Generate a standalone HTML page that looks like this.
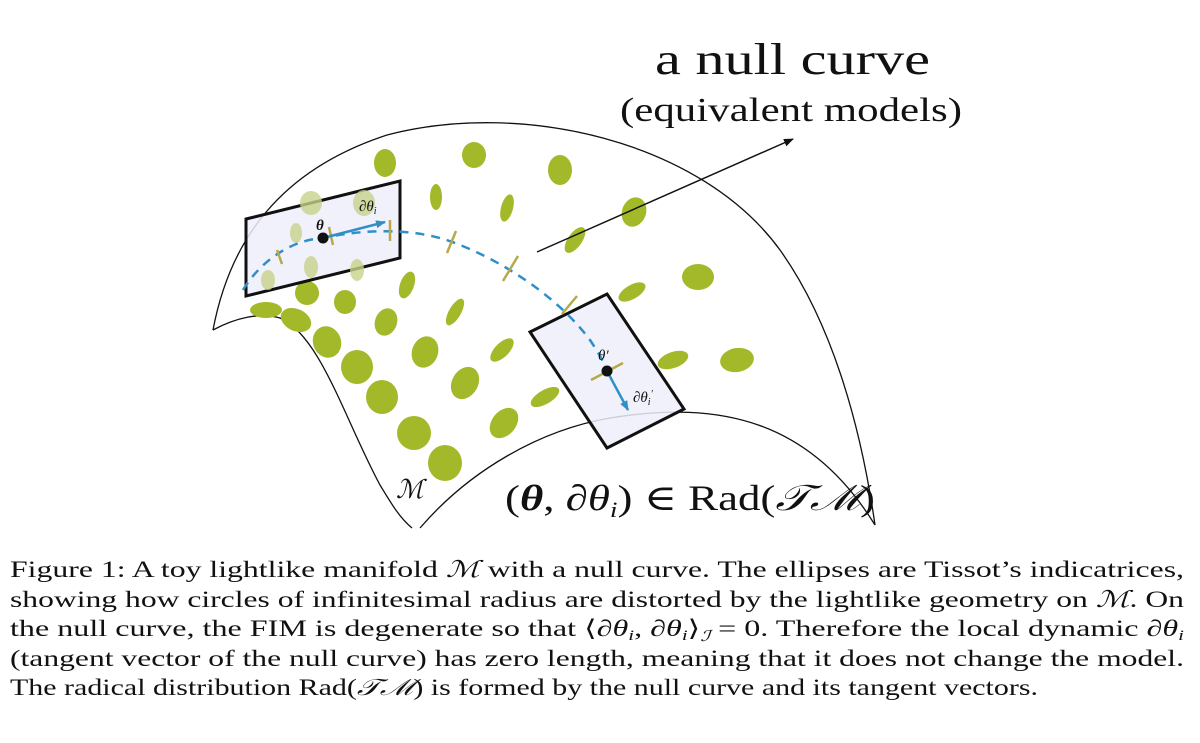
<!DOCTYPE html>
<html><head><meta charset="utf-8"><style>
html,body{margin:0;padding:0;background:#fff;}
svg{display:block}
text{font-family:"Liberation Serif","DejaVu Serif",serif;fill:#111}
</style></head><body>
<svg width="1200" height="743" viewBox="0 0 1200 743" xmlns="http://www.w3.org/2000/svg">
<defs>
<marker id="ab" markerWidth="10" markerHeight="8" refX="9" refY="4" orient="auto" markerUnits="userSpaceOnUse"><path d="M0,0 L10,4 L0,8 z" fill="#111"/></marker>
<marker id="bb" markerWidth="10" markerHeight="8" refX="9" refY="4" orient="auto" markerUnits="userSpaceOnUse"><path d="M0,0 L10,4 L0,8 z" fill="#2f8fc6"/></marker>
</defs>
<path d="M213,330 C230,240 280,170 387,135 C520,100 700,140 780,250 C830,320 860,420 875,525" fill="none" stroke="#111" stroke-width="1.3"/>
<path d="M213,330 C235,318 260,312 280,318 C320,335 345,420 380,485 C392,505 400,518 412,528" fill="none" stroke="#111" stroke-width="1.3"/>
<path d="M420,528 C470,470 540,430 610,418 C720,400 810,420 875,525" fill="none" stroke="#111" stroke-width="1.3"/>
<g fill="#a3b92a">
<ellipse cx="385" cy="163" rx="11" ry="14"/>
<ellipse cx="474" cy="155" rx="12" ry="13"/>
<ellipse cx="560" cy="170" rx="12" ry="15"/>
<ellipse cx="436" cy="197" rx="6" ry="13"/>
<ellipse cx="507" cy="208" rx="6" ry="14" transform="rotate(15 507 208)"/>
<ellipse cx="634" cy="212" rx="12" ry="15" transform="rotate(20 634 212)"/>
<ellipse cx="575" cy="240" rx="7" ry="15" transform="rotate(35 575 240)"/>
<ellipse cx="407" cy="285" rx="7" ry="14" transform="rotate(20 407 285)"/>
<ellipse cx="698" cy="277" rx="16" ry="13"/>
<ellipse cx="307" cy="293" rx="12" ry="12"/>
<ellipse cx="345" cy="302" rx="11" ry="12"/>
<ellipse cx="266" cy="310" rx="16" ry="8"/>
<ellipse cx="296" cy="320" rx="16" ry="11" transform="rotate(25 296 320)"/>
<ellipse cx="386" cy="322" rx="11" ry="14" transform="rotate(20 386 322)"/>
<ellipse cx="455" cy="312" rx="6" ry="15" transform="rotate(30 455 312)"/>
<ellipse cx="632" cy="292" rx="7" ry="15" transform="rotate(60 632 292)"/>
<ellipse cx="327" cy="342" rx="14" ry="16" transform="rotate(-20 327 342)"/>
<ellipse cx="425" cy="352" rx="13" ry="16" transform="rotate(20 425 352)"/>
<ellipse cx="502" cy="350" rx="7" ry="15" transform="rotate(45 502 350)"/>
<ellipse cx="357" cy="367" rx="16" ry="17"/>
<ellipse cx="673" cy="360" rx="16" ry="8" transform="rotate(-20 673 360)"/>
<ellipse cx="737" cy="360" rx="17" ry="12" transform="rotate(-10 737 360)"/>
<ellipse cx="465" cy="383" rx="13" ry="17" transform="rotate(30 465 383)"/>
<ellipse cx="545" cy="397" rx="7" ry="16" transform="rotate(60 545 397)"/>
<ellipse cx="504" cy="423" rx="12" ry="17" transform="rotate(40 504 423)"/>
<ellipse cx="382" cy="397" rx="16" ry="17"/>
<ellipse cx="414" cy="433" rx="17" ry="17"/>
<ellipse cx="445" cy="463" rx="17" ry="18"/>
</g>
<polygon points="246,219 400,181 400,258 246,296" fill="#eeeefb" fill-opacity="0.85" stroke="#111" stroke-width="3"/>
<g fill="#c7d38a" opacity="0.8">
<ellipse cx="311" cy="203" rx="11" ry="12"/>
<ellipse cx="364" cy="203" rx="11" ry="13"/>
<ellipse cx="296" cy="233" rx="6" ry="10"/>
<ellipse cx="311" cy="267" rx="7" ry="11"/>
<ellipse cx="357" cy="270" rx="7" ry="11"/>
<ellipse cx="268" cy="280" rx="7" ry="10"/>
</g>
<polygon points="607,294 684,409 607,448 530,332" fill="#eeeefb" fill-opacity="0.85" stroke="#111" stroke-width="3"/>
<path d="M243,290 C260,262 290,240 323,238 C370,228 420,228 460,245 C510,265 560,300 590,340 C600,355 604,363 607,371" fill="none" stroke="#2f8fc6" stroke-width="2.5" stroke-dasharray="9,7"/>
<g stroke="#b8a84a" stroke-width="2.5">
<line x1="277" y1="250" x2="282" y2="264"/>
<line x1="329" y1="227" x2="333" y2="245"/>
<line x1="390" y1="220" x2="390" y2="241"/>
<line x1="456" y1="231" x2="447" y2="253"/>
<line x1="518" y1="256" x2="503" y2="281"/>
<line x1="577" y1="296" x2="562" y2="314"/>
<line x1="591" y1="380" x2="623" y2="363"/>
</g>
<line x1="323" y1="238" x2="385" y2="222" stroke="#2f8fc6" stroke-width="2.5" marker-end="url(#bb)"/>
<line x1="607" y1="371" x2="628" y2="410" stroke="#2f8fc6" stroke-width="2.5" marker-end="url(#bb)"/>
<circle cx="323" cy="238" r="5.5" fill="#111"/>
<circle cx="607" cy="371" r="5.5" fill="#111"/>
<text x="316" y="230" font-size="15" font-style="italic" font-weight="bold">θ</text>
<text x="359" y="211" font-size="15" font-style="italic">∂θ<tspan font-size="10" dy="3">i</tspan></text>
<text x="598" y="360" font-size="15" font-style="italic">θ′</text>
<text x="633" y="402" font-size="15" font-style="italic">∂θ<tspan font-size="10" dy="3">i</tspan><tspan font-size="10" dy="-8">′</tspan></text>
<line x1="537" y1="252" x2="793" y2="139" stroke="#111" stroke-width="1.5" marker-end="url(#ab)"/>
<text x="655" y="74" font-size="44" textLength="275" lengthAdjust="spacingAndGlyphs">a null curve</text>
<text x="620" y="121" font-size="34" textLength="342" lengthAdjust="spacingAndGlyphs">(equivalent models)</text>
<text x="396" y="498" font-size="26" font-style="italic" font-family="'DejaVu Serif',serif">ℳ</text>
<text x="505" y="510" font-size="36" textLength="370" lengthAdjust="spacingAndGlyphs">(<tspan font-weight="bold" font-style="italic">θ</tspan>, ∂<tspan font-style="italic">θ</tspan><tspan font-size="22" font-style="italic" dy="7">i</tspan><tspan dy="-7">) ∈ Rad(</tspan><tspan font-style="italic">𝒯ℳ</tspan>)</text>
<g font-size="23">
<text x="10" y="577" textLength="1174" lengthAdjust="spacingAndGlyphs">Figure 1: A toy lightlike manifold <tspan font-style="italic">ℳ</tspan> with a null curve. The ellipses are Tissot’s indicatrices,</text>
<text x="10" y="607" textLength="1174" lengthAdjust="spacingAndGlyphs">showing how circles of infinitesimal radius are distorted by the lightlike geometry on <tspan font-style="italic">ℳ</tspan>. On</text>
<text x="10" y="636" textLength="1174" lengthAdjust="spacingAndGlyphs">the null curve, the FIM is degenerate so that ⟨∂<tspan font-style="italic">θ<tspan font-size="15" dy="4">i</tspan></tspan><tspan dy="-4">, ∂</tspan><tspan font-style="italic">θ<tspan font-size="15" dy="4">i</tspan></tspan><tspan dy="-4">⟩</tspan><tspan font-size="15" font-style="italic" dy="5">ℐ</tspan><tspan dy="-5"> = 0. Therefore the local dynamic ∂</tspan><tspan font-style="italic">θ<tspan font-size="15" dy="4">i</tspan></tspan></text>
<text x="10" y="666" textLength="1174" lengthAdjust="spacingAndGlyphs">(tangent vector of the null curve) has zero length, meaning that it does not change the model.</text>
<text x="10" y="695" textLength="1028" lengthAdjust="spacingAndGlyphs">The radical distribution Rad(<tspan font-style="italic">𝒯ℳ</tspan>) is formed by the null curve and its tangent vectors.</text>
</g>
</svg>
</body></html>
